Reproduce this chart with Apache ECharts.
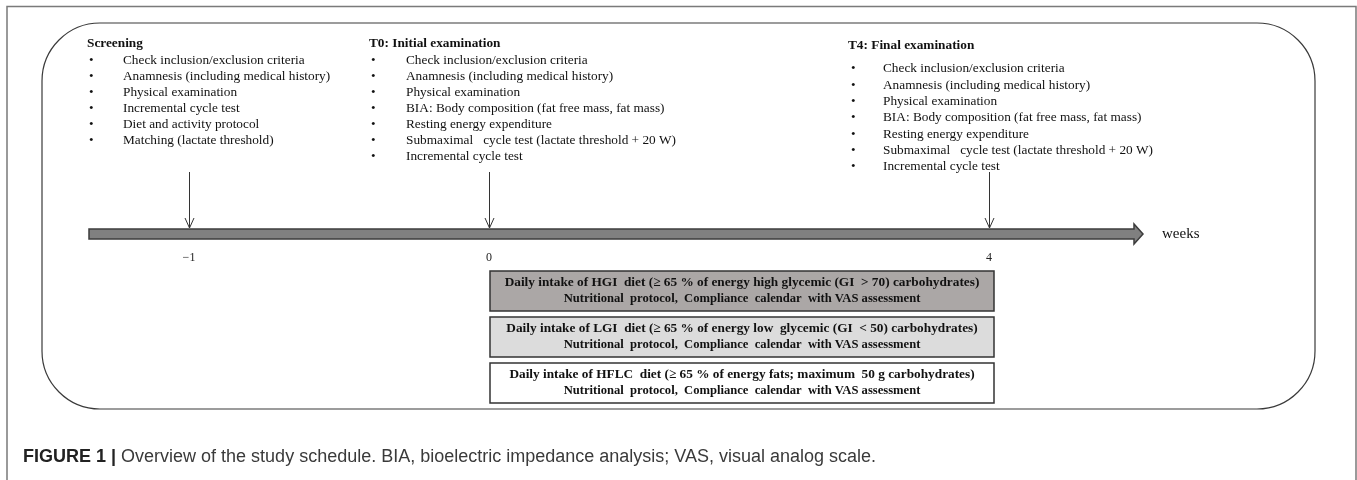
<!DOCTYPE html>
<html><head><meta charset="utf-8">
<script src="https://cdn.jsdelivr.net/npm/echarts@6/dist/echarts.min.js"></script>
<style>html,body{margin:0;padding:0;background:#fff}#c{width:1357px;height:480px}</style>
</head><body><div id="c"></div>
<script>
// ---- data ----
const timelineSlots = ['', '−1', '', '', '0', '', '', '', '', '4', ''];
const visitWeeks = ['−1', '0', '4'];
const axisName = 'weeks';
const screeningTitle = 'Screening';
const screeningItems = [
  'Check inclusion/exclusion criteria',
  'Anamnesis (including medical history)',
  'Physical examination',
  'Incremental cycle test',
  'Diet and activity protocol',
  'Matching (lactate threshold)'
];
const t0Title = 'T0: Initial examination';
const t0Items = [
  'Check inclusion/exclusion criteria',
  'Anamnesis (including medical history)',
  'Physical examination',
  'BIA: Body composition (fat free mass, fat mass)',
  'Resting energy expenditure',
  'Submaximal   cycle test (lactate threshold + 20 W)',
  'Incremental cycle test'
];
const t4Title = 'T4: Final examination';
const t4Items = t0Items.slice();
const dietStart = '0';
const dietEnd = '4';
const dietLine1 = [
  'Daily intake of HGI  diet (≥ 65 % of energy high glycemic (GI  > 70) carbohydrates)',
  'Daily intake of LGI  diet (≥ 65 % of energy low  glycemic (GI  < 50) carbohydrates)',
  'Daily intake of HFLC  diet (≥ 65 % of energy fats; maximum  50 g carbohydrates)'
];
const dietLine2 = [
  'Nutritional  protocol,  Compliance  calendar  with VAS assessment',
  'Nutritional  protocol,  Compliance  calendar  with VAS assessment',
  'Nutritional  protocol,  Compliance  calendar  with VAS assessment'
];
const dietFills = ['#aba7a6', '#dcdcdc', '#ffffff'];
const captionBold = 'FIGURE 1 | ';
const captionText = 'Overview of the study schedule. BIA, bioelectric impedance analysis; VAS, visual analog scale.';

// ---- drawing ----
const serif = '"Liberation Serif","Times New Roman",serif';
const sans = '"Liberation Sans",Arial,Helvetica,sans-serif';
const chart = echarts.init(document.getElementById('c'));

function column(title, items, hx, hy, bx, tx, y0, dy) {
  const els = [{type: 'text', x: hx, y: hy, z: 10, style: {text: title, font: 'bold 13.3px ' + serif, fill: '#111', verticalAlign: 'middle'}}];
  items.forEach((t, i) => {
    const y = y0 + i * dy;
    els.push({type: 'text', x: bx, y: y, z: 10, style: {text: '•', font: '13px ' + serif, fill: '#111', verticalAlign: 'middle'}});
    els.push({type: 'text', x: tx, y: y, z: 10, style: {text: t, font: '13.3px ' + serif, fill: '#111', verticalAlign: 'middle'}});
  });
  return els;
}

const slot = w => timelineSlots.indexOf(w);
const BAR_Y = 234;

const graphics = [
  {type: 'rect', shape: {x: 7, y: 6.5, width: 1349, height: 490}, style: {fill: 'none', stroke: '#7a7a7a', lineWidth: 1.5}, z: 0},
  {type: 'rect', shape: {x: 42, y: 23, width: 1273, height: 386, r: 58}, style: {fill: 'none', stroke: '#3a3a3a', lineWidth: 1.2}, z: 1},
  {type: 'text', x: 23, y: 457, z: 10, style: {
    text: '{b|' + captionBold + '}{r|' + captionText + '}',
    verticalAlign: 'middle',
    rich: {
      b: {fontFamily: sans, fontWeight: 'bold', fontSize: 18, fill: '#222'},
      r: {fontFamily: sans, fontSize: 18, fill: '#3a3a3a'}
    }
  }}
].concat(
  column(screeningTitle, screeningItems, 87, 44, 89, 123, 61, 16),
  column(t0Title, t0Items, 369, 44, 371, 406, 61, 16),
  column(t4Title, t4Items, 848, 46, 851, 883, 69, 16.3)
);

chart.setOption({
  animation: false,
  backgroundColor: '#fff',
  grid: {left: 89, right: 268, top: 20, bottom: 480 - BAR_Y},
  xAxis: {
    type: 'category', data: timelineSlots, boundaryGap: false,
    axisLine: {show: false}, axisTick: {show: false}, splitLine: {show: false},
    axisLabel: {interval: 0, margin: 18, fontFamily: serif, fontSize: 12, color: '#222'},
    name: axisName, nameLocation: 'end', nameGap: 73,
    nameTextStyle: {fontFamily: serif, fontSize: 15, color: '#111', align: 'left', verticalAlign: 'middle'}
  },
  yAxis: {type: 'value', min: 0, max: 1, show: false},
  graphic: graphics,
  series: [
    {
      type: 'custom', name: 'timeline', z: 3,
      data: [[0, timelineSlots.length - 1]],
      renderItem: (params, api) => {
        const x0 = api.coord([api.value(0), 0])[0];
        const xb = api.coord([api.value(1), 0])[0] + 45;
        const xt = xb + 9;
        return {
          type: 'polygon',
          shape: {points: [[x0, BAR_Y - 5], [xb, BAR_Y - 5], [xb, BAR_Y - 10], [xt, BAR_Y], [xb, BAR_Y + 10], [xb, BAR_Y + 5], [x0, BAR_Y + 5]]},
          style: {fill: '#808080', stroke: '#3c3c3c', lineWidth: 1.5}
        };
      }
    },
    {
      type: 'custom', name: 'visits', z: 4,
      data: visitWeeks.map(w => [slot(w)]),
      renderItem: (params, api) => {
        const x = Math.round(api.coord([api.value(0), 0])[0]) + 0.5;
        return {
          type: 'group',
          children: [
            {type: 'line', shape: {x1: x, y1: 172, x2: x, y2: 228}, style: {stroke: '#333', lineWidth: 1}},
            {type: 'polyline', shape: {points: [[x - 4.5, 218], [x, 228], [x + 4.5, 218]]}, style: {stroke: '#333', lineWidth: 1, fill: 'none'}}
          ]
        };
      }
    },
    {
      type: 'custom', name: 'diets', z: 5,
      data: dietLine1.map((t, i) => [slot(dietStart), slot(dietEnd), i]),
      renderItem: (params, api) => {
        const i = api.value(2);
        const x0 = api.coord([api.value(0), 0])[0] + 1;
        const x1 = api.coord([api.value(1), 0])[0] + 5;
        const y = 271 + i * 46;
        const h = 40;
        const cx = (x0 + x1) / 2;
        return {
          type: 'group',
          children: [
            {type: 'rect', shape: {x: x0, y: y, width: x1 - x0, height: h}, style: {fill: dietFills[i], stroke: '#333', lineWidth: 1.5}},
            {type: 'text', x: cx, y: y + 12, style: {text: dietLine1[i], font: 'bold 13.3px ' + serif, fill: '#111', align: 'center', verticalAlign: 'middle'}},
            {type: 'text', x: cx, y: y + 28, style: {text: dietLine2[i], font: 'bold 12.6px ' + serif, fill: '#111', align: 'center', verticalAlign: 'middle'}}
          ]
        };
      }
    }
  ]
});
</script>
</body></html>
